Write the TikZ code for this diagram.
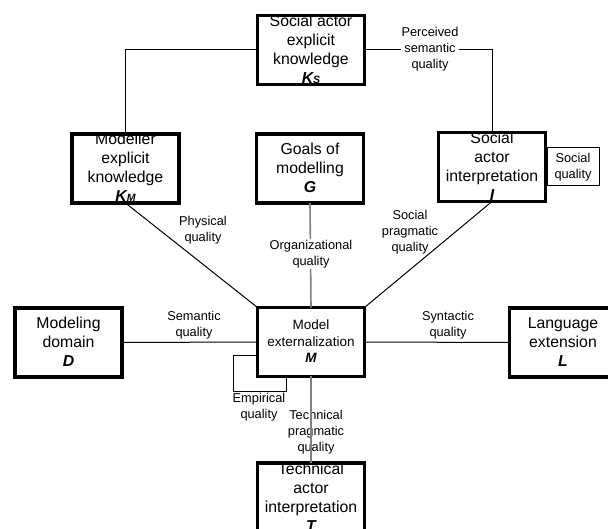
\documentclass[tikz,border=0pt]{standalone}
\usepackage{fontspec}
\setmainfont{Liberation Sans}
\begin{document}
\begin{tikzpicture}[x=1pt,y=-1pt,
  bigbox/.style={draw,line width=3.6pt,fill=white,minimum width=107pt,minimum height=69pt,inner sep=0pt,outer sep=0pt},
  boxtext/.style={align=center,inner sep=0pt,font=\fontsize{15.8}{19}\selectfont},
  smalltext/.style={align=center,inner sep=0pt,font=\fontsize{13.5}{16.5}\selectfont},
  lbl/.style={align=center,inner sep=1pt,fill=white,font=\fontsize{12.8}{16}\selectfont},
  lblnf/.style={align=center,inner sep=1pt,font=\fontsize{12.8}{16}\selectfont},
  conn/.style={line width=1pt,black},
  gconn/.style={line width=1.6pt,gray},
  thinbox/.style={line width=1pt,black}]
\clip (0,0) rectangle (608,529);
\useasboundingbox (0,0) rectangle (608,529);

% thin boxes behind main boxes
\draw[thinbox] (547,148) rectangle (599,186);
\node[smalltext,font=\fontsize{12.8}{15.5}\selectfont] (SQ) at (573,167) {Social\\quality};
\coordinate (E1) at (256,356);
\coordinate (E2) at (233,391);
\coordinate (E3) at (286,378);
\draw[thinbox] (E1) -- (E1 -| E2) -- (E2) -- (E2 -| E3) -- (E3);

% main boxes
\node[bigbox] (Ks) at (311,50) {};
\node[bigbox] (KM) at (125.5,168.5) {};
\node[bigbox] (G) at (310,168.5) {};
\node[bigbox] (I) at (492,167) {};
\node[bigbox] (D) at (68.5,342.5) {};
\node[bigbox] (M) at (311,342) {};
\node[bigbox] (L) at (563,342.5) {};
\node[bigbox] (T) at (311,497.5) {};

% connectors
\draw[conn] (KM.north) |- (Ks.west);
\draw[conn] (Ks.east) -| (I.north);
\draw[conn] (KM.south) -- (M.north west);
\draw[conn] (I.south) -- (M.north east);
\draw[gconn] (G.south) -- (M.north);
\draw[conn] (D.east) -- (M.west);
\draw[conn] (M.east) -- (L.west);

% box texts
\node[boxtext] (KsT) at (311,49.5) {Social actor\\explicit\\knowledge\\{\bfseries\itshape K{\fontsize{10.5}{10}\selectfont S}}};
\node[boxtext] (KMT) at (125.5,167.5) {Modeller\\explicit\\knowledge\\{\bfseries\itshape K{\fontsize{10.5}{10}\selectfont M}}};
\node[boxtext] (GT) at (310,168) {Goals of\\modelling\\{\bfseries\itshape G}};
\node[boxtext] (IT) at (492,166.5) {Social\\actor\\interpretation\\{\bfseries\itshape I}};
\node[boxtext] (DT) at (68.5,342) {Modeling\\domain\\{\bfseries\itshape D}};
\node[smalltext] (MT) at (311,341.5) {Model\\externalization\\{\bfseries\itshape M}};
\node[boxtext] (LT) at (563,342) {Language\\extension\\{\bfseries\itshape L}};
\node[boxtext] (TT) at (311,497.5) {Technical\\actor\\interpretation\\{\bfseries\itshape T}};

% labels
\node[lbl] (PSQ) at (430,49.5) {Perceived\\semantic\\quality};
\node[lblnf] (PQ) at (203,230) {Physical\\quality};
\node[lbl] (OQ) at (311,254) {Organizational\\quality};
\node[lblnf] (SPQ) at (410,232) {Social\\pragmatic\\quality};
\node[lblnf] (SemQ) at (194,325) {Semantic\\quality};
\node[lblnf] (SynQ) at (448,325) {Syntactic\\quality};
\node[lblnf] (EQ) at (259,407.5) {Empirical\\quality};
\node[lblnf] (TPQ) at (316,432) {Technical\\pragmatic\\quality};

\draw[gconn] (M.south) -- (T.north);
\end{tikzpicture}
\end{document}
